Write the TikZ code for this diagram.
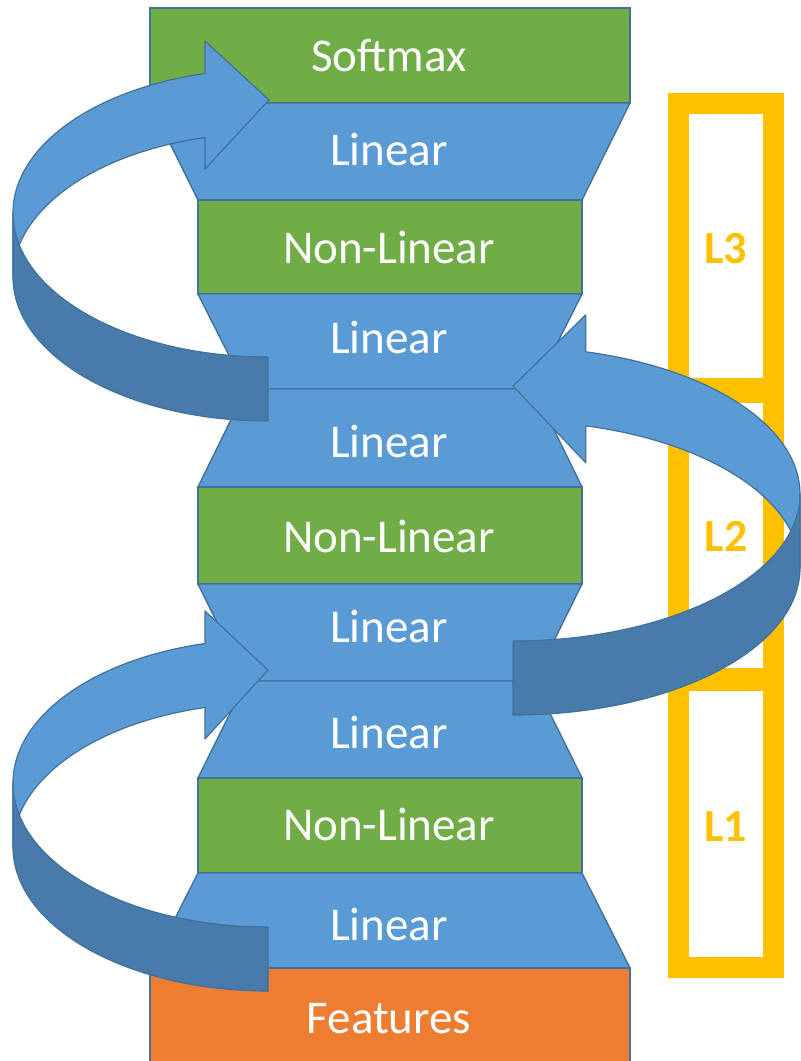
\documentclass[tikz,border=0pt]{standalone}
\usepackage{fontspec}
\setmainfont{Carlito}
\definecolor{lblue}{HTML}{5B9BD5}
\definecolor{dblue}{HTML}{487BAA}
\definecolor{edgeblue}{HTML}{41719C}
\definecolor{lgreen}{HTML}{70AD47}
\definecolor{forange}{HTML}{ED7D31}
\definecolor{gold}{HTML}{FFC000}
\begin{document}
\begin{tikzpicture}[x=1pt,y=-1pt,
  layer/.style={draw=edgeblue, line width=1.4pt},
  linlayer/.style={layer, fill=lblue},
  nllayer/.style={layer, fill=lgreen},
  featlayer/.style={layer, fill=forange},
  lbl/.style={text=white, anchor=base, inner sep=0pt, font=\fontsize{47}{50}\selectfont},
  goldbox/.style={draw=gold, line width=21pt},
  goldlbl/.style={text=gold, anchor=base, inner sep=0pt, font=\bfseries\fontsize{46}{50}\selectfont},
  arrlight/.style={fill=lblue, draw=edgeblue, line width=1.2pt, line join=round},
  arrdark/.style={fill=dblue, draw=edgeblue, line width=1.2pt, line join=round}]
\useasboundingbox (0,0) rectangle (801,1061);
\clip (0,0) rectangle (801,1061);

% stack of layers
\path[nllayer] (150,8) rectangle (630,103);
\path[linlayer] (150,103) -- (630,103) -- (582,200) -- (198,200) -- cycle;
\path[nllayer] (198,200) rectangle (582,294);
\path[linlayer] (198,294) -- (582,294) -- (534,389) -- (246,389) -- cycle;
\path[linlayer] (246,389) -- (534,389) -- (582,487) -- (198,487) -- cycle;
\path[nllayer] (198,487) rectangle (582,584);
\path[linlayer] (198,584) -- (582,584) -- (534,681) -- (246,681) -- cycle;
\path[linlayer] (246,681) -- (534,681) -- (582,778) -- (198,778) -- cycle;
\path[nllayer] (198,778) rectangle (582,873);
\path[linlayer] (198,873) -- (582,873) -- (630,968) -- (150,968) -- cycle;
\path[featlayer] (150,968) rectangle (630,1080);

% gold boxes
\draw[goldbox] (678.5,103.5) rectangle (773.5,388.5);
\draw[goldbox] (678.5,392.5) rectangle (773.5,678.5);
\draw[goldbox] (678.5,680.5) rectangle (773.5,967.5);
\node[goldlbl] (l3) at (725.5,263) {L3};
\node[goldlbl] (l2) at (726,551) {L2};
\node[goldlbl] (l1) at (725.5,841) {L1};

% top-left curved arrow
\path[arrlight] (205,73.5) arc[start angle=255.7, end angle=180, x radius=255, y radius=144]
  -- ++(0,64) arc[start angle=180, end angle=255.7, x radius=255, y radius=144]
  -- (205,169) -- (269,100) -- (205,41) -- cycle;
\path[arrdark] (13,213) arc[start angle=180, end angle=90, x radius=255, y radius=144]
  -- ++(0,64) arc[start angle=90, end angle=180, x radius=255, y radius=144] -- cycle;

% bottom-left curved arrow
\begin{scope}[shift={(0,570)}]
\path[arrlight] (205,73.5) arc[start angle=255.7, end angle=180, x radius=255, y radius=144]
  -- ++(0,64) arc[start angle=180, end angle=255.7, x radius=255, y radius=144]
  -- (205,169) -- (268,100) -- (205,41) -- cycle;
\path[arrdark] (13,213) arc[start angle=180, end angle=90, x radius=255, y radius=144]
  -- ++(0,64) arc[start angle=90, end angle=180, x radius=255, y radius=144] -- cycle;
\end{scope}

% right curved arrow
\path[arrlight] (585.8,351.8) arc[start angle=284.7, end angle=360, x radius=287, y radius=147]
  -- ++(0,74) arc[start angle=360, end angle=284.7, x radius=287, y radius=147]
  -- (585.8,462.8) -- (513,386) -- (585.8,314.8) -- cycle;
\path[arrdark] (800,494) arc[start angle=0, end angle=90, x radius=287, y radius=147]
  -- ++(0,74) arc[start angle=90, end angle=0, x radius=287, y radius=147] -- cycle;

% layer labels
\node[lbl] (softmax) at (389,71) {Softmax};
\node[lbl] (lin6) at (389,165) {Linear};
\node[lbl] (nl3) at (389,263) {Non-Linear};
\node[lbl] (lin5) at (389,353) {Linear};
\node[lbl] (lin4) at (389,457) {Linear};
\node[lbl] (nl2) at (389,552) {Non-Linear};
\node[lbl] (lin3) at (389,642) {Linear};
\node[lbl] (lin2) at (389,748) {Linear};
\node[lbl] (nl1) at (389,840) {Non-Linear};
\node[lbl] (lin1) at (389,940) {Linear};
\node[lbl] (features) at (389,1033) {Features};
\end{tikzpicture}
\end{document}
